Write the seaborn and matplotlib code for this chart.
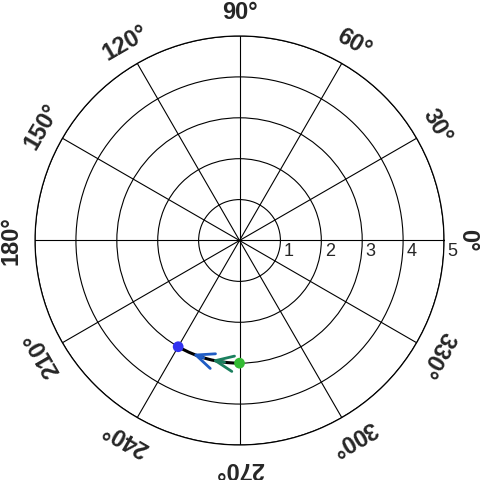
import numpy as np
import pandas as pd
import matplotlib
matplotlib.use("Agg")
import matplotlib.pyplot as plt
import matplotlib.transforms as mtransforms
import seaborn as sns

# ---- data ----
theta_ticks_deg = [0, 30, 60, 90, 120, 150, 180, 210, 240, 270, 300, 330]
theta_tick_labels = ["0°", "30°", "60°", "90°", "120°", "150°", "180°",
                     "210°", "240°", "270°", "300°", "330°"]
r_ticks = [1, 2, 3, 4, 5]
r_tick_labels = ["1", "2", "3", "4", "5"]
r_max = 5

path_theta_deg = [270, 240]
path_r = [3, 3]
point_colors = ["#33bb33", "#3232f0"]

arrow_tail_deg = [263.0, 253.0]
arrow_tip_deg = [257.0, 247.5]
arrow_r = [3, 3]
arrow_colors = ["#1b7f5e", "#1f5cc4"]

sns.set_style("white")
plt.rcParams["font.family"] = ["Liberation Sans", "DejaVu Sans"]

fig = plt.figure(figsize=(4.8, 4.8), dpi=100)
ax = fig.add_axes([0.073, 0.073, 0.852, 0.852], projection="polar")

df = pd.DataFrame({"theta": np.deg2rad(path_theta_deg), "r": path_r})
sns.lineplot(data=df, x="theta", y="r", ax=ax, color="black", lw=2.2,
             sort=False, estimator=None, zorder=3)
for ln in ax.lines:
    ln.get_path()._interpolation_steps = 100

for t0, t1, rr, c in zip(arrow_tail_deg, arrow_tip_deg, arrow_r, arrow_colors):
    ax.annotate("", xy=(np.deg2rad(t1), rr), xytext=(np.deg2rad(t0), rr),
                arrowprops=dict(arrowstyle="->,head_length=0.65,head_width=0.28",
                                color=c, lw=2.0, mutation_scale=20,
                                shrinkA=0, shrinkB=0),
                zorder=4)

pts = pd.DataFrame({"theta": np.deg2rad(path_theta_deg), "r": path_r,
                    "c": ["start", "end"]})
sns.scatterplot(data=pts, x="theta", y="r", hue="c",
                palette=dict(zip(["start", "end"], point_colors)),
                s=60, edgecolor="none", ax=ax, legend=False, zorder=5)

ax.set_ylim(0, r_max)
ax.set_xticks(np.deg2rad(theta_ticks_deg))
ax.set_xticklabels([])
ax.set_yticks(r_ticks)
ax.set_yticklabels([])
ax.set_xlabel("")
ax.set_ylabel("")
ax.grid(True, color="black", lw=0.8)
ax.spines["polar"].set_color("black")
ax.spines["polar"].set_linewidth(0.9)

for td, lab in zip(theta_ticks_deg, theta_tick_labels):
    ax.text(np.deg2rad(td), 5.58, lab, rotation=td - 90, rotation_mode="anchor",
            ha="center", va="center", fontsize=17, fontweight="bold",
            clip_on=False)

offset = mtransforms.ScaledTranslation(3.5 / 100, -3 / 100, fig.dpi_scale_trans)
for rr, lab in zip(r_ticks, r_tick_labels):
    ax.text(0, rr, lab, ha="left", va="top", fontsize=13,
            transform=ax.transData + offset, zorder=6)

fig.savefig("out.png", dpi=100)
